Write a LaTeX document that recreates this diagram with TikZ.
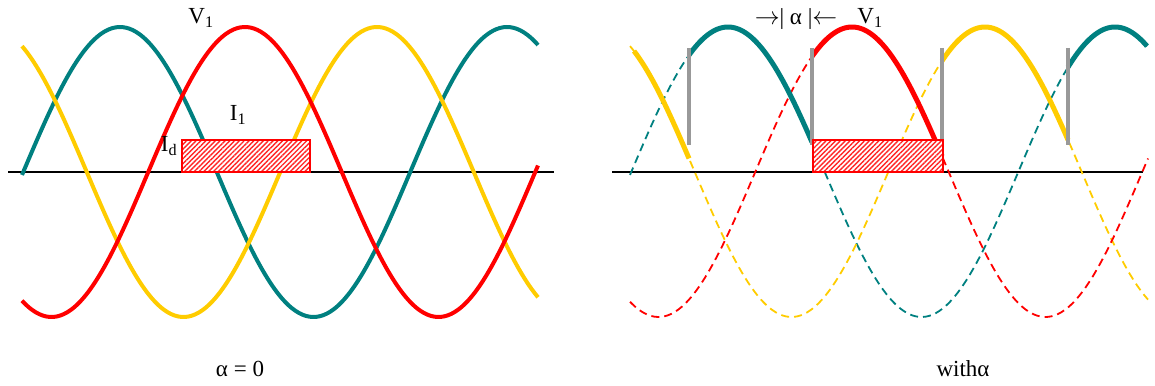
\documentclass[tikz,border=0pt]{standalone}
\usepackage{fontspec}
\setmainfont{Liberation Serif}
\usetikzlibrary{patterns.meta}
\definecolor{phaseA}{HTML}{008080}
\definecolor{phaseB}{HTML}{FF0000}
\definecolor{phaseC}{HTML}{FFCC00}
\definecolor{thyr}{HTML}{999999}

\begin{document}
\begin{tikzpicture}[x=1pt,y=-1pt,font=\fontsize{23}{27}\selectfont,
 wave/.style={line width=4pt},
 dwave/.style={line width=1.8pt,dash pattern=on 8pt off 5pt},
 cond/.style={line width=5pt},
 gate/.style={draw=thyr,line width=4pt},
 axis/.style={draw=black,line width=2pt},
 idbox/.style={draw=phaseB,line width=1.8pt,preaction={fill=white},
   pattern={Lines[angle=45,distance=3.4pt,line width=1.4pt]},pattern color=phaseB!85}]
\useasboundingbox (0,0) rectangle (1155,385);
% alpha = 0
\draw[axis] (8,172) -- (554,172);
\foreach \pk/\col in {120/phaseA,377/phaseC,245/phaseB}
  \draw[wave,\col] plot[domain=22:538,samples=150,smooth] (\x,{172-145*cos((\x-\pk)/387*360)});
\draw[idbox] (182,140) rectangle (310,172);
\node (vl) at (201,18) {V\textsubscript{1}};
\node (ione) at (238,115) {I\textsubscript{1}};
\node (idc) at (169,146) {I\textsubscript{d}};
\node (capl) at (240,369) {α = 0};
% with alpha
\draw[axis] (612,172) -- (1143,172);
\foreach \pk/\col in {728/phaseA,985/phaseC,852/phaseB}
  \draw[dwave,\col] plot[domain=630:1148,samples=150,smooth] (\x,{172-145*cos((\x-\pk)/387*360)});
\foreach \a/\b/\pk/\col in {634/689/598/phaseC,689/812/728/phaseA,812/942/852/phaseB,942/1068/985/phaseC,1068/1147/1115/phaseA}
  \draw[cond,\col] plot[domain=\a:\b,samples=60,smooth] (\x,{172-145*cos((\x-\pk)/387*360)});
\foreach \g in {689,812,942,1068}
  \draw[gate] (\g,48) -- (\g,145);
\draw[idbox] (813,140) rectangle (943,172);
\node (alab) at (796,19) {$\rightarrow$| α |$\leftarrow$};
\node (vr) at (870,18) {V\textsubscript{1}};
\node (capr) at (963,369) {withα};
\end{tikzpicture}
\end{document}
